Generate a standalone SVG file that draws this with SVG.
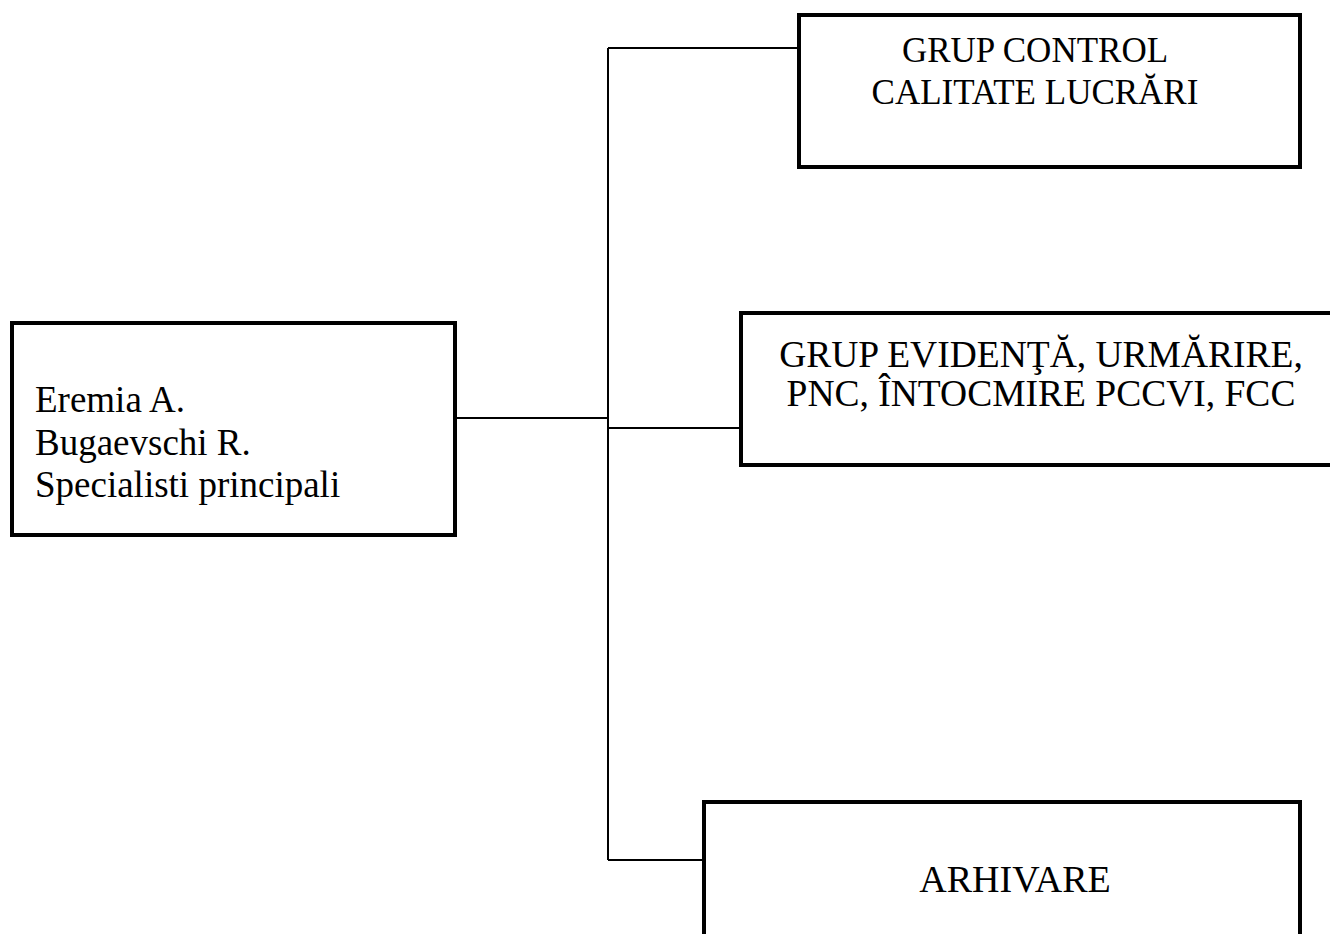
<svg xmlns="http://www.w3.org/2000/svg" width="1330" height="934" viewBox="0 0 1330 934">
<style>
.box{fill:#fff;stroke:#000;stroke-width:4}
.conn{fill:none;stroke:#000;stroke-width:2}
text{font-family:"Liberation Serif","Times New Roman",serif;font-size:36px;fill:#000}
.c{text-anchor:middle}
</style>
<rect width="1330" height="934" fill="#fff"/>
<g id="connectors">
<line class="conn" x1="455" y1="418" x2="608" y2="418"/>
<line class="conn" x1="608" y1="48" x2="608" y2="860"/>
<line class="conn" x1="608" y1="48" x2="799" y2="48"/>
<line class="conn" x1="608" y1="428" x2="741" y2="428"/>
<line class="conn" x1="608" y1="860" x2="704" y2="860"/>
</g>
<g id="node-main">
<rect class="box" x="12" y="323" width="443" height="212"/>
<text x="35" y="412" style="font-size:37px">Eremia A.</text>
<text x="35" y="455" style="font-size:37px">Bugaevschi R.</text>
<text x="35" y="497" style="font-size:37px">Specialisti principali</text>
</g>
<g id="node-control">
<rect class="box" x="799" y="15" width="501" height="152"/>
<text class="c" x="1035" y="62" style="font-size:35px">GRUP CONTROL</text>
<text class="c" x="1035" y="104" style="font-size:35px">CALITATE LUCRĂRI</text>
</g>
<g id="node-evidenta">
<rect class="box" x="741" y="313" width="600" height="152"/>
<text class="c" x="1041" y="367" style="font-size:37.5px">GRUP EVIDENŢĂ, URMĂRIRE,</text>
<text class="c" x="1041" y="406" style="font-size:37.5px">PNC, ÎNTOCMIRE PCCVI, FCC</text>
</g>
<g id="node-arhivare">
<rect class="box" x="704" y="802" width="596" height="160"/>
<text class="c" x="1015" y="892" style="font-size:38px">ARHIVARE</text>
</g>
</svg>
